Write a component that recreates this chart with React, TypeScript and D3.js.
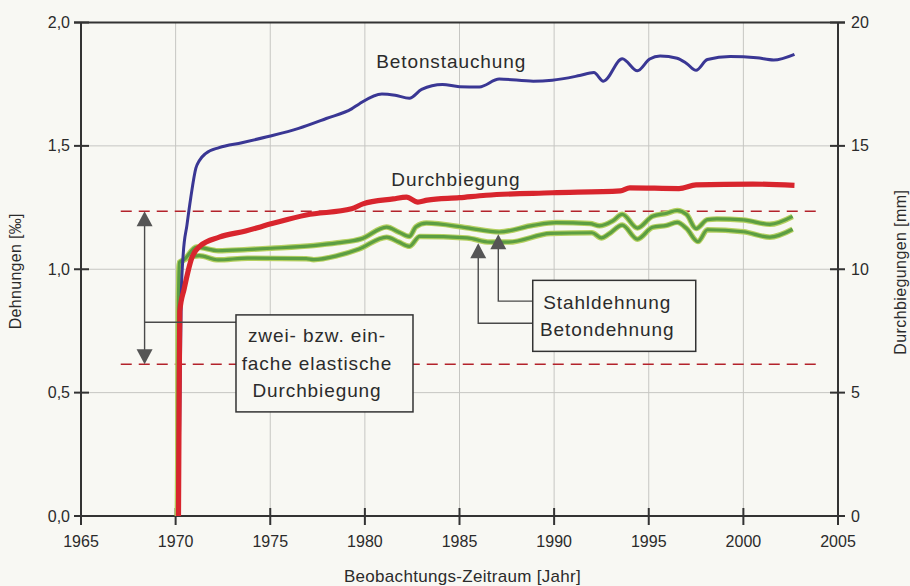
import React from 'react';
import * as d3 from 'd3';

type Pt = [number, number];

// tick values
const yearTicks = [1965, 1970, 1975, 1980, 1985, 1990, 1995, 2000, 2005];
const strainTicks = [0, 0.5, 1, 1.5, 2];
const strainTickLabels = ['0,0', '0,5', '1,0', '1,5', '2,0'];
const deflectionTicks = [0, 5, 10, 15, 20];

// Betonstauchung [‰] (left axis)
const betonstauchung: Pt[] = [
  [1970.15, 0], [1970.25, 0.6], [1970.3, 0.9], [1970.4, 1.06], [1970.6, 1.18],
  [1970.8, 1.29], [1971.07, 1.41], [1971.25, 1.44], [1971.6, 1.47], [1972.3, 1.493],
  [1973.5, 1.513], [1974.95, 1.539], [1976.5, 1.571], [1977.96, 1.611], [1979.3, 1.65],
  [1979.7, 1.67], [1980.9, 1.71], [1981.6, 1.705], [1982.35, 1.693], [1983.0, 1.729],
  [1984.1, 1.749], [1985.0, 1.74], [1986.05, 1.739], [1987.1, 1.771], [1988.9, 1.762],
  [1989.9, 1.766], [1991.35, 1.785], [1992.1, 1.797], [1992.6, 1.762], [1993.6, 1.853],
  [1994.4, 1.804], [1995.05, 1.852], [1995.6, 1.864], [1996.5, 1.855], [1997.0, 1.834],
  [1997.5, 1.806], [1998.1, 1.85], [1999.3, 1.862], [2000.7, 1.857], [2001.6, 1.848],
  [2002.7, 1.871],
];

// Durchbiegung [mm] (right axis)
const durchbiegung: Pt[] = [
  [1970.15, 0], [1970.18, 4], [1970.22, 8.3], [1970.45, 9.2], [1970.85, 10.45],
  [1971.3, 10.95], [1972.3, 11.3], [1973.7, 11.55], [1975.1, 11.85], [1976.9, 12.2],
  [1979.3, 12.45], [1979.9, 12.65], [1981.5, 12.85], [1982.2, 12.92], [1982.8, 12.72],
  [1983.3, 12.8], [1985.0, 12.9], [1986.4, 13.0], [1989.9, 13.1], [1993.5, 13.18],
  [1994.0, 13.3], [1996.6, 13.27], [1997.5, 13.42], [2000.5, 13.45], [2002.7, 13.4],
];

// Stahldehnung [‰]
const stahldehnung: Pt[] = [
  [1970.1, 0], [1970.15, 0.87], [1970.2, 1.027], [1970.45, 1.039], [1971.1, 1.09],
  [1972.25, 1.075], [1973.8, 1.08], [1975.05, 1.085], [1977.3, 1.096], [1978.55, 1.107],
  [1979.8, 1.123], [1981.15, 1.171], [1981.8, 1.15], [1982.35, 1.133], [1982.7, 1.172],
  [1983.25, 1.187], [1985.4, 1.168], [1987.1, 1.151], [1988.9, 1.178], [1990.1, 1.189],
  [1991.9, 1.185], [1992.4, 1.176], [1993.1, 1.196], [1993.6, 1.223], [1994.4, 1.167],
  [1995.2, 1.215], [1995.95, 1.227], [1996.5, 1.238], [1997.0, 1.222], [1997.5, 1.165],
  [1998.1, 1.201], [1998.6, 1.204], [2000.0, 1.2], [2001.4, 1.182], [2002.6, 1.214],
];

// Betondehnung [‰]
const betondehnung: Pt[] = [
  [1970.1, 0], [1970.15, 0.87], [1970.2, 1.027], [1971.25, 1.055], [1972.25, 1.038],
  [1973.8, 1.045], [1976.9, 1.043], [1977.3, 1.039], [1978.55, 1.055], [1979.7, 1.082],
  [1981.15, 1.13], [1981.8, 1.11], [1982.35, 1.093], [1982.9, 1.133], [1985.4, 1.127],
  [1986.6, 1.11], [1987.6, 1.11], [1989.8, 1.145], [1992.0, 1.148], [1992.5, 1.127],
  [1992.9, 1.143], [1993.6, 1.179], [1994.4, 1.122], [1995.2, 1.17], [1995.95, 1.178],
  [1996.5, 1.19], [1997.0, 1.165], [1997.6, 1.112], [1998.1, 1.16], [2000.0, 1.152],
  [2001.4, 1.13], [2002.6, 1.162],
];

// elastic deflection band (dashed lines)
const elasticLevels = [1.235, 0.615];
const elasticRange = [1967.1, 2004.1];

const W = 910;
const H = 586;
const M = { left: 81, right: 838, top: 22.5, bottom: 516 };
const FONT = "'Liberation Sans', Arial, Helvetica, sans-serif";
const INK = '#2b2b2b';

const upArrow = (tx: number, ty: number) => `${tx},${ty} ${tx - 8},${ty + 15} ${tx + 8},${ty + 15}`;
const downArrow = (tx: number, ty: number) => `${tx},${ty} ${tx - 8},${ty - 15} ${tx + 8},${ty - 15}`;

export default function App() {
  const x = d3.scaleLinear().domain([1965, 2005]).range([M.left, M.right]);
  const yL = d3.scaleLinear().domain([0, 2]).range([M.bottom, M.top]);
  const yR = d3.scaleLinear().domain([0, 20]).range([M.bottom, M.top]);

  const lineL = d3.line<Pt>().x(d => x(d[0])).y(d => yL(d[1])).curve(d3.curveMonotoneX);
  const lineR = d3.line<Pt>().x(d => x(d[0])).y(d => yR(d[1])).curve(d3.curveMonotoneX);

  // annotation anchors (data units)
  const arrowX = x(1968.36);
  const box1 = { x: x(1973.19), y: yL(0.815), w: 177, h: 97 };
  const box2 = { x: x(1988.87), y: yL(0.955), w: 163, h: 71 };
  const stahlX = x(1987.05);
  const betonX = x(1985.99);

  const txt = { fontFamily: FONT, fill: INK };
  const annoText = { ...txt, fontSize: 19, letterSpacing: 0.9 };

  return (
    <svg width={W} height={H} style={{ position: 'absolute', left: 0, top: 0 }}>
      <rect width={W} height={H} fill="#f8f8f3" />

      {/* grid */}
      {yearTicks.slice(1, -1).map(t => (
        <line key={'gx' + t} x1={x(t)} x2={x(t)} y1={M.top} y2={M.bottom} stroke="#c6c6c2" strokeWidth={1} />
      ))}
      {strainTicks.slice(1, -1).map(t => (
        <line key={'gy' + t} x1={M.left} x2={M.right} y1={yL(t)} y2={yL(t)} stroke="#c6c6c2" strokeWidth={1} />
      ))}

      {/* dashed elastic lines */}
      {elasticLevels.map(v => (
        <line key={'el' + v} x1={x(elasticRange[0])} x2={x(elasticRange[1])} y1={yL(v)} y2={yL(v)}
          stroke="#b3222b" strokeWidth={1.6} strokeDasharray="11 7" />
      ))}

      {/* axes frame */}
      <g stroke="#333" strokeWidth={2}>
        <line x1={M.left} x2={M.left} y1={M.top} y2={M.bottom + 8} />
        <line x1={M.right} x2={M.right} y1={M.top} y2={M.bottom + 8} />
        <line x1={M.left - 7} x2={M.right + 7} y1={M.top} y2={M.top} />
        <line x1={M.left - 7} x2={M.right + 7} y1={M.bottom} y2={M.bottom} />
        {strainTicks.map(t => (
          <line key={'lt' + t} x1={M.left - 7} x2={M.left + 8} y1={yL(t)} y2={yL(t)} />
        ))}
        {deflectionTicks.map(t => (
          <line key={'rt' + t} x1={M.right - 8} x2={M.right + 7} y1={yR(t)} y2={yR(t)} />
        ))}
        {yearTicks.map(t => (
          <line key={'xt' + t} x1={x(t)} x2={x(t)} y1={M.bottom - 8} y2={M.bottom + 9} />
        ))}
      </g>

      {/* tick labels */}
      {strainTicks.map((t, i) => (
        <text key={'ll' + t} x={M.left - 11} y={yL(t)} dy="0.35em" textAnchor="end" fontSize={16} {...txt}>
          {strainTickLabels[i]}
        </text>
      ))}
      {deflectionTicks.map(t => (
        <text key={'rl' + t} x={M.right + 13} y={yR(t)} dy="0.35em" textAnchor="start" fontSize={16} {...txt}>
          {t}
        </text>
      ))}
      {yearTicks.map(t => (
        <text key={'xl' + t} x={x(t)} y={M.bottom + 31} textAnchor="middle" fontSize={16} {...txt}>
          {t}
        </text>
      ))}

      {/* axis titles */}
      <text transform={`translate(21,${(M.top + M.bottom) / 2 + 2}) rotate(-90)`} textAnchor="middle" fontSize={16} letterSpacing={0.3} {...txt}>
        Dehnungen [‰]
      </text>
      <text transform={`translate(906,${(M.top + M.bottom) / 2 + 3}) rotate(-90)`} textAnchor="middle" fontSize={16} letterSpacing={0.4} {...txt}>
        Durchbiegungen [mm]
      </text>
      <text x={(M.left + M.right) / 2 + 3} y={582} textAnchor="middle" fontSize={17} letterSpacing={0.3} {...txt}>
        Beobachtungs-Zeitraum [Jahr]
      </text>

      {/* series */}
      <path d={lineL(betondehnung) ?? ''} fill="none" stroke="#b5d060" strokeWidth={5.5} strokeLinejoin="round" />
      <path d={lineL(betondehnung) ?? ''} fill="none" stroke="#5c9e42" strokeWidth={3.2} strokeLinejoin="round" />
      <path d={lineL(stahldehnung) ?? ''} fill="none" stroke="#b5d060" strokeWidth={5.5} strokeLinejoin="round" />
      <path d={lineL(stahldehnung) ?? ''} fill="none" stroke="#5c9e42" strokeWidth={3.2} strokeLinejoin="round" />
      <path d={lineL(betonstauchung) ?? ''} fill="none" stroke="#3a3794" strokeWidth={3} strokeLinejoin="round" />
      <path d={lineR(durchbiegung) ?? ''} fill="none" stroke="#d8252d" strokeWidth={5.2} strokeLinejoin="round" />

      {/* series labels */}
      <text x={x(1980.6)} y={yL(1.816)} {...annoText}>Betonstauchung</text>
      <text x={x(1981.4)} y={yL(1.337)} {...annoText}>Durchbiegung</text>

      {/* double arrow for elastic deflection */}
      <g stroke="#4a4a4a" strokeWidth={1.4} fill="none">
        <line x1={arrowX} x2={arrowX} y1={yL(elasticLevels[0]) + 10} y2={yL(elasticLevels[1]) - 10} />
        <polyline points={`${arrowX},${yL(0.785)} ${box1.x},${yL(0.785)}`} />
      </g>
      <polygon points={upArrow(arrowX, yL(elasticLevels[0]))} fill="#555" />
      <polygon points={downArrow(arrowX, yL(elasticLevels[1]))} fill="#555" />

      <rect x={box1.x} y={box1.y} width={box1.w} height={box1.h} fill="#f8f8f3" stroke="#333" strokeWidth={1.5} />
      {['zwei- bzw. ein-', 'fache elastische', 'Durchbiegung'].map((s, i) => (
        <text key={s} x={box1.x + 81} y={box1.y + 27.5 + i * 27.5} textAnchor="middle" {...annoText}>{s}</text>
      ))}

      {/* strain arrows */}
      <g stroke="#4a4a4a" strokeWidth={1.4} fill="none">
        <polyline points={`${stahlX},${yL(1.142) + 10} ${stahlX},${yL(0.871)} ${box2.x},${yL(0.871)}`} />
        <polyline points={`${betonX},${yL(1.105) + 10} ${betonX},${yL(0.781)} ${box2.x},${yL(0.781)}`} />
      </g>
      <polygon points={upArrow(stahlX, yL(1.142))} fill="#555" />
      <polygon points={upArrow(betonX, yL(1.105))} fill="#555" />

      <rect x={box2.x} y={box2.y} width={box2.w} height={box2.h} fill="#f8f8f3" stroke="#333" strokeWidth={1.5} />
      <text x={box2.x + 74.5} y={box2.y + 28.3} textAnchor="middle" {...annoText}>Stahldehnung</text>
      <text x={box2.x + 74.5} y={box2.y + 56} textAnchor="middle" {...annoText}>Betondehnung</text>
    </svg>
  );
}
